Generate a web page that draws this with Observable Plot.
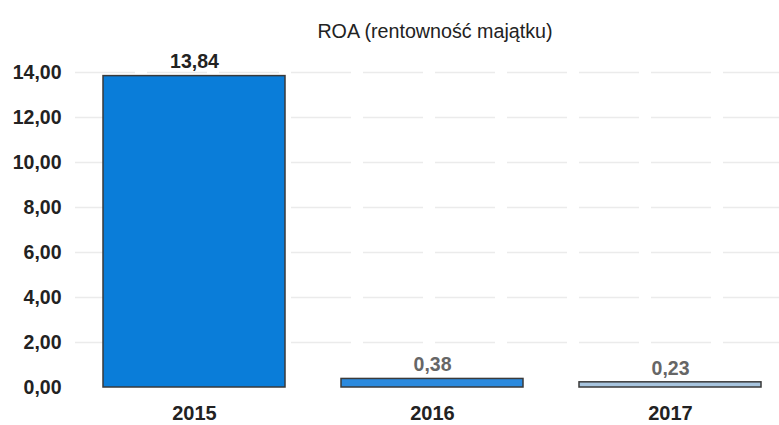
<!DOCTYPE html>
<html>
<head>
<meta charset="utf-8">
<script src="https://cdn.jsdelivr.net/npm/d3@7"></script>
<script src="https://cdn.jsdelivr.net/npm/@observablehq/plot@0.6"></script>
<style>
  body { margin: 0; background: #fff; font-family: "Liberation Sans", Arial, sans-serif; }
  #title { height: 40px; width: 779px; position: relative; }
  #title span { position: absolute; left: 435px; top: 31px; transform: translate(-50%, -50%); font-size: 19.7px; color: #222; white-space: nowrap; }
</style>
</head>
<body>
<div id="title"><span>ROA (rentowność majątku)</span></div>
<div id="chart"></div>
<script>
const years = ["2015", "2016", "2017"];
const values = [13.84, 0.38, 0.23];
const barColors = ["#0a7dd9", "#2b8ade", "#a8c5df"];
const labelColors = ["#222222", "#666666", "#666666"];
const yTicks = [0, 2, 4, 6, 8, 10, 12, 14];

const data = years.map((y, i) => ({year: y, value: values[i], color: barColors[i], lc: labelColors[i]}));
const fmt = v => v.toFixed(2).replace(".", ",");

const chart = Plot.plot({
  width: 779,
  height: 385,
  marginLeft: 75,
  marginRight: 0,
  marginTop: 32,
  marginBottom: 38,
  style: {fontFamily: "'Liberation Sans', Arial, sans-serif", background: "#fff", overflow: "visible"},
  x: {domain: years, range: [75, 790], paddingInner: 0.235, paddingOuter: 0.1175, label: null},
  y: {domain: [0, 14], label: null},
  marks: [
    Plot.ruleY(yTicks.filter(d => d > 0), {stroke: "#ebebeb", strokeWidth: 1.5, strokeDasharray: "60,12"}),
    Plot.barY(data, {x: "year", y: "value", fill: "color", stroke: "#3a3a3a", strokeWidth: 1.5}),
    Plot.text(data, {x: "year", y: "value", text: d => fmt(d.value), dy: -14, fill: "lc", fontSize: 19.5, fontWeight: "bold"}),
    Plot.axisY({ticks: yTicks, tickFormat: fmt, tickSize: 0, tickPadding: 14, fontSize: 19.5, fontWeight: "bold", fill: "#222", label: null}),
    Plot.axisX({tickSize: 0, tickPadding: 18, fontSize: 20, fontWeight: "bold", fill: "#222", label: null})
  ]
});
document.getElementById("chart").appendChild(chart);
</script>
</body>
</html>
